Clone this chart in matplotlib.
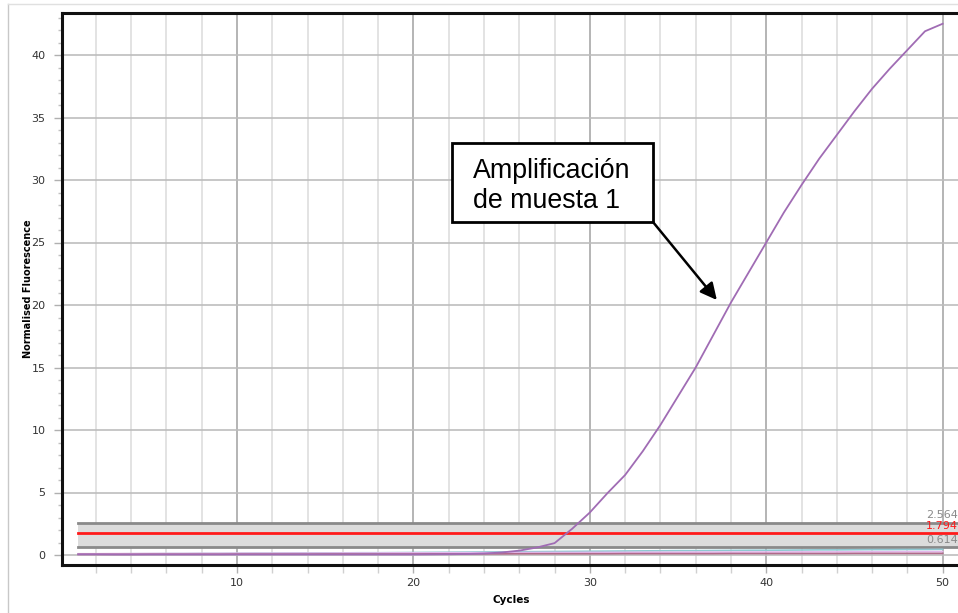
import matplotlib
matplotlib.use("Agg")
import matplotlib.pyplot as plt
from matplotlib.ticker import MultipleLocator
from matplotlib.lines import Line2D
from matplotlib.patches import Rectangle

cycles = list(range(1, 51))
sample1 = [0.05, 0.05, 0.04, 0.04, 0.04, 0.04, 0.04, 0.04, 0.04, 0.04,
           0.04, 0.04, 0.04, 0.04, 0.04, 0.04, 0.04, 0.04, 0.04, 0.04,
           0.05, 0.06, 0.08, 0.12, 0.2, 0.35, 0.6, 0.95, 2.1, 3.4,
           4.95, 6.4, 8.3, 10.4, 12.7, 15.0, 17.6, 20.2, 22.6, 25.0,
           27.4, 29.6, 31.7, 33.6, 35.5, 37.3, 38.9, 40.4, 41.9, 42.5]
teal = [0.08, 0.09, 0.09, 0.10, 0.10, 0.11, 0.11, 0.12, 0.12, 0.13,
        0.14, 0.14, 0.15, 0.16, 0.16, 0.17, 0.18, 0.18, 0.19, 0.20,
        0.21, 0.22, 0.23, 0.24, 0.25, 0.26, 0.27, 0.28, 0.29, 0.30,
        0.31, 0.32, 0.33, 0.34, 0.35, 0.35, 0.36, 0.37, 0.38, 0.38,
        0.39, 0.40, 0.41, 0.41, 0.42, 0.43, 0.43, 0.44, 0.44, 0.45]
lavender = [0.10, 0.10, 0.11, 0.11, 0.12, 0.12, 0.12, 0.13, 0.13, 0.14,
            0.14, 0.14, 0.15, 0.15, 0.15, 0.16, 0.16, 0.16, 0.17, 0.17,
            0.17, 0.18, 0.18, 0.18, 0.19, 0.19, 0.20, 0.20, 0.20, 0.21,
            0.21, 0.21, 0.22, 0.22, 0.22, 0.23, 0.23, 0.23, 0.24, 0.24,
            0.24, 0.25, 0.25, 0.25, 0.26, 0.26, 0.26, 0.27, 0.27, 0.27]
rose = [0.05, 0.05, 0.05, 0.05, 0.06, 0.06, 0.06, 0.06, 0.06, 0.07,
        0.07, 0.07, 0.07, 0.07, 0.08, 0.08, 0.08, 0.08, 0.08, 0.08,
        0.09, 0.09, 0.09, 0.09, 0.09, 0.10, 0.10, 0.10, 0.10, 0.10,
        0.10, 0.11, 0.11, 0.11, 0.11, 0.11, 0.11, 0.12, 0.12, 0.12,
        0.12, 0.12, 0.12, 0.12, 0.13, 0.13, 0.13, 0.13, 0.13, 0.13]

thr_low, thr_mid, thr_high = 0.614, 1.794, 2.564
thr_labels = ["0.614", "1.794", "2.564"]
x_ticks = [10, 20, 30, 40, 50]
y_ticks = [0, 5, 10, 15, 20, 25, 30, 35, 40]
annot_text = "Amplificación\nde muesta 1"

W, H = 958, 613
fig = plt.figure(figsize=(W / 100, H / 100), dpi=100)
ax = fig.add_axes([62 / W, (H - 565) / H, (W - 62) / W, (565 - 13) / H])
ax.set_xlim(0.08, 50.87)
ax.set_ylim(-0.8, 43.36)

# grid
for x in range(2, 51, 2):
    col = "#a8a8a8" if x % 10 == 0 else "#dedede"
    ax.axvline(x, color=col, lw=1.2, zorder=0)
for y in y_ticks:
    ax.axhline(y, color="#bdbdbd", lw=1.2, zorder=0)

# threshold band
ax.fill_between([1, 52], thr_low, thr_high, color="#dcdcdc", zorder=1, lw=0)
ax.plot([1, 52], [thr_high, thr_high], color="#8a8a8a", lw=2, zorder=2)
ax.plot([1, 52], [thr_low, thr_low], color="#8a8a8a", lw=2, zorder=2)
ax.plot([1, 52], [thr_mid, thr_mid], color="#ff1a1a", lw=2, zorder=3)

# curves
ax.plot(cycles, teal, color="#8fc8d2", lw=1.2, zorder=4)
ax.plot(cycles, lavender, color="#e4b8ec", lw=1.2, zorder=4)
ax.plot(cycles, rose, color="#b06a8a", lw=1.2, zorder=4)
ax.plot(cycles, sample1, color="#a06cb4", lw=1.3, zorder=5)

# threshold labels
ax.text(50.87, thr_high + 0.25, thr_labels[2], color="#8a8a8a", fontsize=8,
        ha="right", va="bottom", zorder=6)
ax.text(50.87, thr_mid + 0.15, thr_labels[1], color="#ff1a1a", fontsize=8,
        ha="right", va="bottom", zorder=6)
ax.text(50.87, thr_low + 0.2, thr_labels[0], color="#8a8a8a", fontsize=8,
        ha="right", va="bottom", zorder=6)

# ticks
ax.set_xticks(x_ticks)
ax.set_yticks(y_ticks)
ax.xaxis.set_minor_locator(MultipleLocator(2))
ax.yaxis.set_minor_locator(MultipleLocator(1))
ax.tick_params(axis="both", which="major", labelsize=8, labelcolor="#333333",
               color="#b0b0b0", length=6, width=1)
ax.tick_params(axis="x", which="minor", color="#d0d0d0", length=6, width=1)
ax.tick_params(axis="y", which="minor", color="#c0c0c0", length=3, width=1)
ax.tick_params(axis="y", which="major", pad=6)

for s in ["left", "top", "bottom"]:
    ax.spines[s].set_color("#111111")
    ax.spines[s].set_linewidth(2.2)
ax.spines["right"].set_visible(False)

ax.set_xlabel("Cycles", fontsize=7.5, fontweight="bold", va="center")
ax.xaxis.set_label_coords((511 - 62) / (W - 62), -(600 - 565) / (565 - 13))
ax.set_ylabel("Normalised Fluorescence", fontsize=7, fontweight="bold", va="center")
ax.yaxis.set_label_coords(-(62 - 28) / (W - 62), 0.5)

# annotation box + arrow
ax.add_patch(Rectangle((22.19, 26.64), 33.58 - 22.19, 32.96 - 26.64,
                       fc="white", ec="black", lw=2, zorder=7))
ax.text(23.38, 29.55, annot_text, fontsize=19.3, family="Liberation Sans",
        ha="left", va="center", linespacing=1.2, zorder=8)
ax.annotate("", xy=(37.2, 20.4), xytext=(33.58, 26.64),
            arrowprops=dict(arrowstyle="-|>,head_length=1.0,head_width=0.5",
                            color="black", lw=1.8, shrinkA=0, shrinkB=0), zorder=7)

# outer light border
fig.add_artist(Line2D([8 / W, 8 / W], [0, 1 - 4 / H], color="#c8c8c8", lw=1))
fig.add_artist(Line2D([8 / W, 1], [1 - 4 / H, 1 - 4 / H], color="#e0e0e0", lw=1))

fig.savefig("out.png", dpi=100)
